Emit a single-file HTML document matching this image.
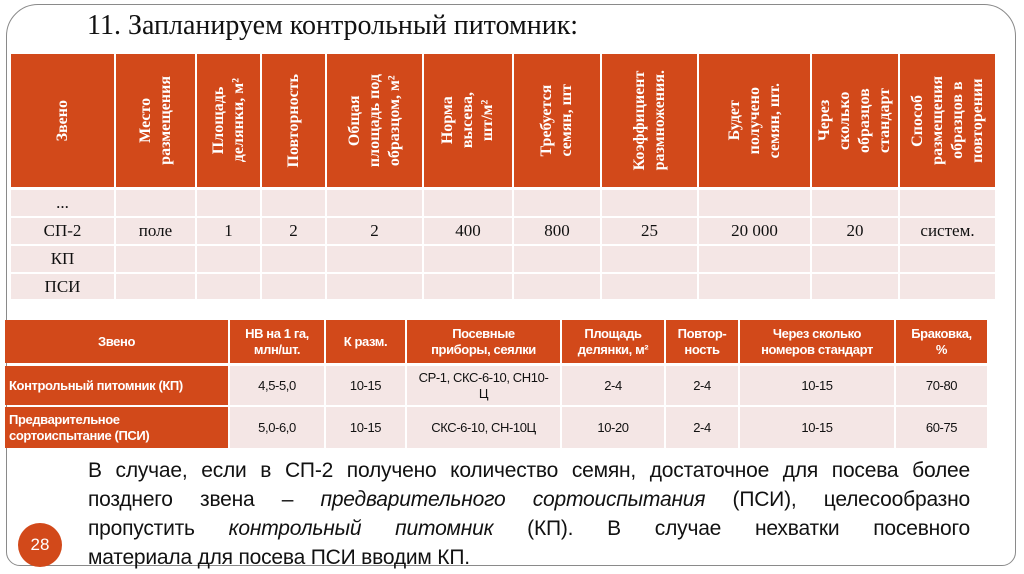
<!DOCTYPE html>
<html><head><meta charset="utf-8">
<style>
body{margin:0;width:1024px;height:574px;background:#fff;position:relative;overflow:hidden;font-family:"Liberation Serif","Noto Serif CJK SC",serif}
.frame{position:absolute;left:6px;top:4px;width:1010px;height:562px;border:1.5px solid #8a8a8a;border-radius:32px 32px 14px 14px;box-sizing:border-box}
.c{position:absolute;box-sizing:border-box;display:flex;align-items:center;justify-content:center;text-align:center}
.h{background:#D2491A;color:#fff;font-weight:bold}
.b{background:#F4E6E5;color:#111}
.v{writing-mode:vertical-rl;transform:rotate(180deg);font-size:16px;line-height:20px}
.t2{font-family:"Liberation Sans",sans-serif;font-size:13px;line-height:16px;letter-spacing:-0.4px}
.ln{white-space:nowrap;text-align:justify;text-align-last:justify;height:29px}
.ln.last{text-align-last:left}
</style></head><body>
<div class="frame"></div>
<div style="position:absolute;left:87px;top:10px;font-size:28px;color:#111">11. Запланируем контрольный питомник:</div>
<div id="t1"></div>
<div id="t2"></div>
<div style="position:absolute;left:88px;top:456px;width:882px;font-family:'Liberation Sans',sans-serif;font-size:21px;line-height:29px;color:#111;letter-spacing:-0.2px">
<div class="ln">В случае, если в СП-2 получено количество семян, достаточное для посева более</div>
<div class="ln">позднего звена – <i>предварительного сортоиспытания</i> (ПСИ), целесообразно</div>
<div class="ln">пропустить <i>контрольный питомник</i> (КП). В случае нехватки посевного</div>
<div class="ln last">материала для посева ПСИ вводим КП.</div>
</div>
<div style="position:absolute;left:18px;top:523px;width:44px;height:44px;border-radius:50%;background:#D2491A;color:#fff;font-family:'Liberation Sans',sans-serif;font-size:17px;display:flex;align-items:center;justify-content:center">28</div>
<script>
const t1cols=[[11,114],[116,195],[197,260],[262,325],[327,422],[424,512],[514,600],[602,697],[699,810],[812,898],[900,995]];
const t1head=["Звено","Место<br>размещения","Площадь<br>делянки, м²","Повторность","Общая<br>площадь под<br>образцом, м²","Норма<br>высева,<br>шт/м²","Требуется<br>семян, шт","Коэффициент<br>размножения.","Будет<br>получено<br>семян, шт.","Через<br>сколько<br>образцов<br>стандарт","Способ<br>размещения<br>образцов в<br>повторении"];
const t1rows=[["...","","","","","","","","","",""],["СП-2","поле","1","2","2","400","800","25","20 000","20","систем."],["КП","","","","","","","","","",""],["ПСИ","","","","","","","","","",""]];
const t1y=[[190,216],[218,244],[246,272],[274,299]];
const T1=document.getElementById('t1');
function cell(par,x0,x1,y0,y1,cls,html){const d=document.createElement('div');d.className='c '+cls;d.style.left=x0+'px';d.style.top=y0+'px';d.style.width=(x1-x0)+'px';d.style.height=(y1-y0)+'px';d.innerHTML=html;par.appendChild(d);return d;}
t1cols.forEach((c,i)=>{
 const d=cell(T1,c[0],c[1],54,187,'h','<span class="v">'+t1head[i]+'</span>');
 
 
 t1rows.forEach((r,j)=>{
  const e=cell(T1,c[0],c[1],t1y[j][0],t1y[j][1],'b','<span style="font-size:17px">'+r[i]+'</span>');
  
  
 });
});
const t2cols=[[5,228],[230,324],[326,405],[407,560],[562,664],[666,738],[740,894],[896,987]];
const t2head=["Звено","НВ на 1 га,<br>млн/шт.","К разм.","Посевные<br>приборы, сеялки","Площадь<br>делянки, м²","Повтор-<br>ность","Через сколько<br>номеров стандарт","Браковка,<br>%"];
const t2rows=[["Контрольный питомник (КП)","4,5-5,0","10-15","СР-1, СКС-6-10, СН10-<br>Ц","2-4","2-4","10-15","70-80"],["Предварительное<br>сортоиспытание (ПСИ)","5,0-6,0","10-15","СКС-6-10, СН-10Ц","10-20","2-4","10-15","60-75"]];
const t2y=[[366,405],[407,448]];
const T2=document.getElementById('t2');
t2cols.forEach((c,i)=>{
 const d=cell(T2,c[0],c[1],320,363,'h t2',t2head[i]);
 
 
 t2rows.forEach((r,j)=>{
  const e=cell(T2,c[0],c[1],t2y[j][0],t2y[j][1],(i==0?'h t2':'b t2'),r[i]);
  if(i==0){e.style.justifyContent='flex-start';e.style.textAlign='left';e.style.paddingLeft='4px';}
  
  
 });
});
</script>
</body></html>
